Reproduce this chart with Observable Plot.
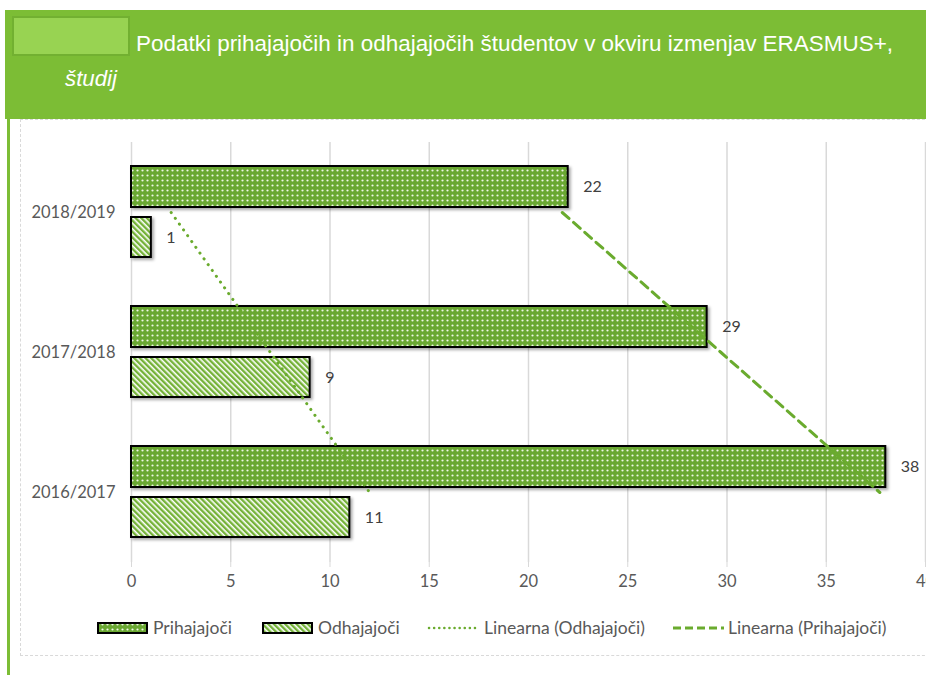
<!DOCTYPE html>
<html>
<head>
<meta charset="utf-8">
<script src="https://cdn.jsdelivr.net/npm/d3@7"></script>
<script src="https://cdn.jsdelivr.net/npm/@observablehq/plot@0.6"></script>
<style>
  html, body { margin: 0; padding: 0; }
  body { width: 926px; height: 675px; overflow: hidden; position: relative; background: #ffffff; font-family: Lato, "Open Sans", sans-serif; }
  #band { position: absolute; left: 5px; top: 10px; width: 921px; height: 109px; background: #7cbd35; }
  #square { position: absolute; left: 7px; top: 6px; width: 114px; height: 36px; background: #98d352; border: 2px solid #72b031; }
  #titlesvg { position: absolute; left: 0; top: 0; }
  #stripe { position: absolute; left: 7px; top: 119px; width: 3px; height: 556px; background: #7cbd35; }
  #frame { position: absolute; left: 20px; top: 119px; width: 940px; height: 537px; border: 1px dashed #d9d9d9; box-sizing: border-box; }
  #chart { position: absolute; left: 0; top: 118px; }
  #legend { position: absolute; left: 0; top: 612px; }
</style>
</head>
<body>
<div id="band">
  <div id="square"></div>
  <svg id="titlesvg" width="921" height="109">
    <text x="131" y="41" fill="#ffffff" font-family="Liberation Sans, Arial, sans-serif" font-size="22" textLength="757" lengthAdjust="spacingAndGlyphs">Podatki prihajajočih in odhajajočih študentov v okviru izmenjav ERASMUS+,</text>
    <text x="60" y="76" fill="#ffffff" font-family="Liberation Sans, Arial, sans-serif" font-size="22" font-style="italic" textLength="52" lengthAdjust="spacingAndGlyphs">študij</text>
  </svg>
</div>
<div id="stripe"></div>
<div id="frame"></div>
<div id="chart"></div>
<svg id="legend" width="926" height="32">
  <defs>
    <pattern id="dots" width="5" height="5" patternUnits="userSpaceOnUse">
      <rect width="5" height="5" fill="#6aa832"></rect>
      <circle cx="2.5" cy="2.5" r="1.1" fill="#eef7e4"></circle>
    </pattern>
    <pattern id="stripes" width="4" height="4" patternUnits="userSpaceOnUse" patternTransform="rotate(-45)">
      <rect width="4" height="4" fill="#ffffff"></rect>
      <rect width="2.4" height="4" fill="#74b238"></rect>
    </pattern>
    <filter id="shadow" x="-5%" y="-20%" width="115%" height="160%">
      <feDropShadow dx="2" dy="2" stdDeviation="1.5" flood-color="#000" flood-opacity="0.35"></feDropShadow>
    </filter>
  </defs>
</svg>
<script>
// ---- data ----
const years = ["2018/2019", "2017/2018", "2016/2017"];
const prihajajoci = [22, 29, 38];
const odhajajoci = [1, 9, 11];
// linear trend lines, values at each category
const trendPrihajajoci = [21.7, 29.7, 37.7];
const trendOdhajajoci = [2, 7, 12];
const xTicks = [0, 5, 10, 15, 20, 25, 30, 35, 40];
const seriesNames = ["Prihajajoči", "Odhajajoči", "Linearna (Odhajajoči)", "Linearna (Prihajajoči)"];

const inData = years.map((y, i) => ({year: y, value: prihajajoci[i]}));
const outData = years.map((y, i) => ({year: y, value: odhajajoci[i]}));
const trendIn = years.map((y, i) => ({year: y, value: trendPrihajajoci[i]}));
const trendOut = years.map((y, i) => ({year: y, value: trendOdhajajoci[i]}));

const green = "#6aab2e";

const chart = Plot.plot({
  width: 926,
  height: 480,
  marginLeft: 131,
  marginRight: 1,
  marginTop: 24,
  marginBottom: 36,
  style: {fontFamily: "Lato, 'Open Sans', sans-serif", fontSize: "16.5px", background: "transparent", overflow: "visible"},
  x: {domain: [0, 40], label: null},
  y: {domain: years, padding: 0, label: null},
  marks: [
    Plot.gridX(xTicks, {stroke: "#d9d9d9", strokeOpacity: 1, strokeWidth: 1.5}),
    Plot.axisX({ticks: xTicks, tickSize: 5, tickPadding: 8, stroke: "#d9d9d9", color: "#595959", label: null}),
    Plot.axisY({tickSize: 0, tickPadding: 16, color: "#595959", label: null}),
    Plot.barX(inData, {x: "value", y: "year", fill: "url(#dots)", stroke: "#000000", strokeWidth: 2, insetTop: 24, insetBottom: 75}),
    Plot.barX(outData, {x: "value", y: "year", fill: "url(#stripes)", stroke: "#000000", strokeWidth: 2, insetTop: 75, insetBottom: 25}),
    Plot.line(trendOut, {x: "value", y: "year", stroke: green, strokeWidth: 3, strokeDasharray: "0.1 7", strokeLinecap: "round"}),
    Plot.line(trendIn, {x: "value", y: "year", stroke: green, strokeWidth: 3, strokeDasharray: "9 6"}),
    Plot.text(inData, {x: "value", y: "year", text: d => String(d.value), dx: 15, dy: -25.5, textAnchor: "start", fill: "#404040", fontSize: 16}),
    Plot.text(outData, {x: "value", y: "year", text: d => String(d.value), dx: 15, dy: 25, textAnchor: "start", fill: "#404040", fontSize: 16})
  ]
});
d3.select(chart).selectAll("g[aria-label='bar']").attr("filter", "url(#shadow)");
document.getElementById("chart").appendChild(chart);

// ---- legend ----
const leg = d3.select("#legend");
const items = [
  {x: 97, kind: "dots", label: seriesNames[0]},
  {x: 262, kind: "stripes", label: seriesNames[1]},
  {x: 428, kind: "dotted", label: seriesNames[2]},
  {x: 672, kind: "dashed", label: seriesNames[3]}
];
const cy = 16;
items.forEach(it => {
  if (it.kind === "dots" || it.kind === "stripes") {
    leg.append("rect").attr("x", it.x + 1).attr("y", cy - 5).attr("width", 49).attr("height", 10)
      .attr("fill", `url(#${it.kind})`).attr("stroke", "#000").attr("stroke-width", 2);
  } else {
    leg.append("line").attr("x1", it.x + 1).attr("x2", it.x + 52).attr("y1", cy).attr("y2", cy)
      .attr("stroke", green).attr("stroke-width", it.kind === "dotted" ? 2.5 : 3)
      .attr("stroke-dasharray", it.kind === "dotted" ? "0.1 5" : "8 4")
      .attr("stroke-linecap", it.kind === "dotted" ? "round" : "butt");
  }
  leg.append("text").attr("x", it.x + 56).attr("y", cy).attr("dy", "0.35em")
    .attr("fill", "#595959").attr("font-size", 17.5).attr("font-family", "Lato, 'Open Sans', sans-serif")
    .text(it.label);
});
</script>
</body>
</html>
